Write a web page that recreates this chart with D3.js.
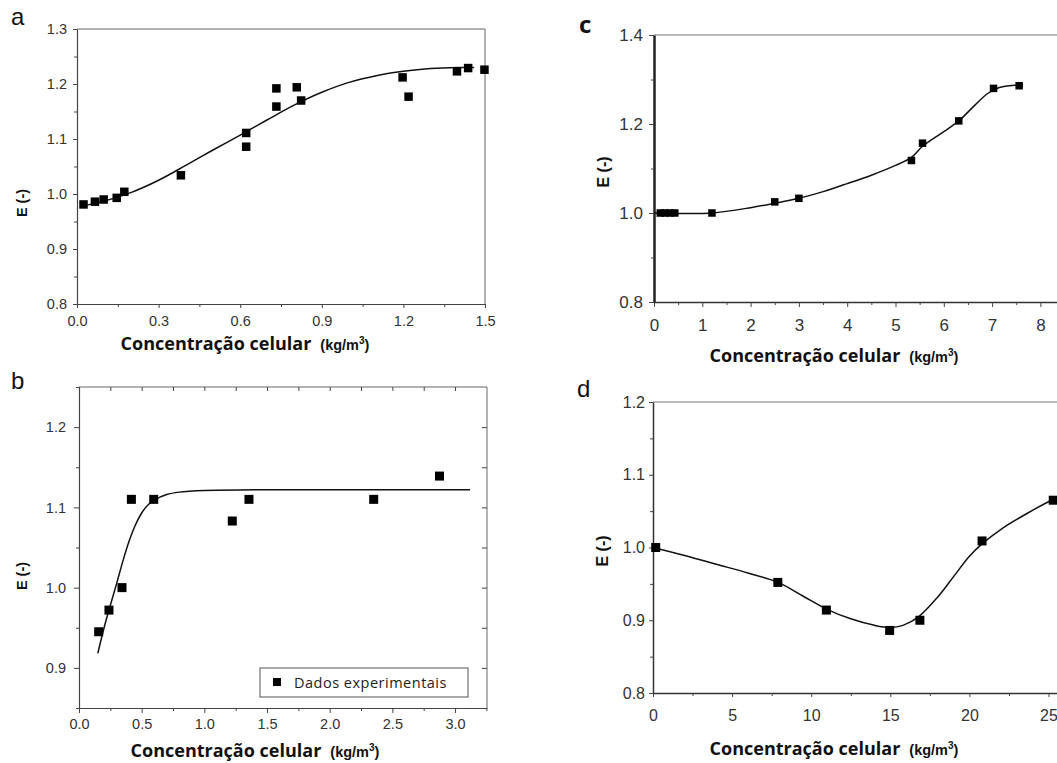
<!DOCTYPE html>
<html>
<head>
<meta charset="utf-8">
<script src="https://cdn.jsdelivr.net/npm/d3@7"></script>
<style>
  body { margin: 0; background: #fff; }
  svg { display: block; }
</style>
</head>
<body>
<script>
// ---- panel a ----
const aPointsX = [0.024, 0.066, 0.098, 0.146, 0.174, 0.382, 0.622, 0.622, 0.733, 0.733, 0.808, 0.824, 1.197, 1.219, 1.397, 1.438, 1.498];
const aPointsY = [0.981, 0.986, 0.990, 0.993, 1.004, 1.034, 1.111, 1.086, 1.192, 1.159, 1.194, 1.170, 1.212, 1.177, 1.223, 1.229, 1.226];
const aCurveX = [0.02, 0.1, 0.2, 0.3, 0.4, 0.5, 0.6, 0.7, 0.8, 0.9, 1.0, 1.1, 1.2, 1.3, 1.4, 1.46];
const aCurveY = [0.978, 0.987, 1.003, 1.025, 1.052, 1.080, 1.107, 1.135, 1.162, 1.185, 1.203, 1.215, 1.223, 1.228, 1.230, 1.230];
const aXTicks = [0, 0.3, 0.6, 0.9, 1.2, 1.5];
const aYTicks = [0.8, 0.9, 1.0, 1.1, 1.2, 1.3];

// ---- panel b ----
const bPointsX = [0.157, 0.239, 0.343, 0.418, 0.596, 1.223, 1.356, 2.351, 2.876];
const bPointsY = [0.945, 0.972, 1.000, 1.110, 1.110, 1.083, 1.110, 1.110, 1.139];
const bCurveX = [0.15, 0.2, 0.25, 0.3, 0.35, 0.4, 0.45, 0.5, 0.55, 0.6, 0.7, 0.8, 1.0, 1.5, 2.0, 2.5, 3.12];
const bCurveY = [0.918, 0.950, 0.978, 1.005, 1.033, 1.058, 1.078, 1.093, 1.103, 1.109, 1.116, 1.119, 1.121, 1.122, 1.122, 1.122, 1.122];
const bXTicks = [0, 0.5, 1.0, 1.5, 2.0, 2.5, 3.0];
const bYTicks = [0.9, 1.0, 1.1, 1.2];
const legendLabel = "Dados experimentais";

// ---- panel c ----
const cPointsX = [0.13, 0.23, 0.33, 0.43, 1.20, 2.50, 3.00, 5.33, 5.56, 6.31, 7.03, 7.56];
const cPointsY = [1.000, 1.000, 1.000, 1.000, 1.000, 1.025, 1.033, 1.118, 1.157, 1.207, 1.280, 1.286];
const cCurveX = [0, 0.5, 1.2, 2, 2.5, 3, 3.5, 4, 4.5, 5, 5.33, 5.56, 6, 6.31, 6.65, 6.9, 7.15, 7.56];
const cCurveY = [1.0, 0.999, 1.0, 1.012, 1.022, 1.033, 1.048, 1.066, 1.085, 1.107, 1.125, 1.150, 1.183, 1.207, 1.243, 1.268, 1.282, 1.288];
const cXTicks = [0, 1, 2, 3, 4, 5, 6, 7, 8];
const cYTicks = [0.8, 1.0, 1.2, 1.4];

// ---- panel d ----
const dPointsX = [0.17, 7.89, 10.96, 14.96, 16.87, 20.8, 25.3];
const dPointsY = [1.000, 0.952, 0.914, 0.886, 0.900, 1.009, 1.065];
const dCurveX = [0, 2, 4, 6, 7.9, 9.5, 11, 12.5, 14, 15, 15.8, 16.8, 18, 19, 20, 20.8, 22, 23.5, 25.3, 26.5];
const dCurveY = [1.0, 0.989, 0.977, 0.965, 0.952, 0.933, 0.915, 0.902, 0.893, 0.890, 0.893, 0.905, 0.932, 0.960, 0.988, 1.005, 1.025, 1.045, 1.066, 1.075];
const dXTicks = [0, 5, 10, 15, 20, 25];
const dYTicks = [0.8, 0.9, 1.0, 1.1, 1.2];

const xTitle = "Concentração celular";
const xUnit = ["(kg/m", "3", ")"];
const yTitle = "E (-)";

const svg = d3.select("body").append("svg")
    .attr("width", 1057)
    .attr("height", 763)
    .style("font-family", "'Liberation Sans', Arial, sans-serif");

// midpoints between major ticks, for the small ticks
const halves = t => d3.pairs(t).map(([a, b]) => (a + b) / 2);

function panel(o) {
  const x = d3.scaleLinear().domain(o.xDomain).range([o.left, o.right]);
  const y = d3.scaleLinear().domain(o.yDomain).range([o.bottom, o.top]);
  const g = svg.append("g");

  // frame (top and maybe right)
  g.append("line")
      .attr("x1", o.left).attr("x2", o.right)
      .attr("y1", o.top).attr("y2", o.top)
      .attr("stroke", o.frameColor).attr("stroke-width", 1);
  if (o.rightFrame) {
    g.append("line")
        .attr("x1", o.right).attr("x2", o.right)
        .attr("y1", o.top).attr("y2", o.bottom)
        .attr("stroke", o.frameColor).attr("stroke-width", 1);
  }

  // mirrored inner ticks on top / right
  if (o.mirror) {
    g.append("g")
        .attr("transform", `translate(0,${o.top})`)
        .call(d3.axisBottom(x).tickValues(d3.merge([o.xTicks, halves(o.xTicks)])).tickFormat("").tickSize(4).tickSizeOuter(0))
        .call(s => s.select(".domain").remove());
    g.append("g")
        .attr("transform", `translate(${o.right},0)`)
        .call(d3.axisLeft(y).tickValues(d3.merge([o.yTicks, halves(o.yTicks)])).tickFormat("").tickSize(5).tickSizeOuter(0))
        .call(s => s.select(".domain").remove());
  }

  // bottom axis
  const xa = g.append("g")
      .attr("transform", `translate(0,${o.bottom})`)
      .call(d3.axisBottom(x).tickValues(o.xTicks).tickFormat(o.xFormat)
        .tickSize(o.tick).tickPadding(o.xPad).tickSizeOuter(0));
  g.append("g")
      .attr("transform", `translate(0,${o.bottom})`)
      .call(d3.axisBottom(x).tickValues(halves(o.xTicks).concat(o.xExtraMinor || []))
        .tickFormat("").tickSize(3).tickSizeOuter(0))
      .call(s => s.select(".domain").remove());

  // left axis
  const ya = g.append("g")
      .attr("transform", `translate(${o.left},0)`)
      .call(d3.axisLeft(y).tickValues(o.yTicks).tickFormat(d3.format(".1f"))
        .tickSize(o.tick).tickPadding(o.yPad).tickSizeOuter(0));
  g.append("g")
      .attr("transform", `translate(${o.left},0)`)
      .call(d3.axisLeft(y).tickValues(o.yMinor).tickFormat("").tickSize(3).tickSizeOuter(0))
      .call(s => s.select(".domain").remove());

  g.selectAll(".tick line").attr("stroke", "#444");
  xa.select(".domain").attr("stroke", o.bottomColor).attr("stroke-width", o.bottomWidth);
  ya.select(".domain").attr("stroke", o.leftColor).attr("stroke-width", o.leftWidth);
  g.selectAll(".tick text")
      .attr("fill", "#333")
      .style("font-family", "'Liberation Sans', Arial, sans-serif")
      .style("font-size", o.tickFont + "px");

  // fitted curve
  const line = d3.line()
      .x(d => x(d[0]))
      .y(d => y(d[1]))
      .curve(d3.curveCatmullRom.alpha(0.5));
  g.append("path")
      .datum(d3.zip(o.curveX, o.curveY))
      .attr("fill", "none")
      .attr("stroke", "#111")
      .attr("stroke-width", 1.5)
      .attr("d", line);

  // experimental points
  const s = o.marker;
  g.append("g")
    .selectAll("rect")
    .data(d3.zip(o.pointsX, o.pointsY))
    .join("rect")
      .attr("x", d => x(d[0]) - s / 2)
      .attr("y", d => y(d[1]) - s / 2)
      .attr("width", s)
      .attr("height", s)
      .attr("fill", "#000");

  // axis titles
  const t = g.append("text")
      .attr("x", o.titleX)
      .attr("y", o.titleY)
      .attr("text-anchor", "middle")
      .attr("fill", "#111");
  t.append("tspan")
      .style("font-family", "'Open Sans', sans-serif")
      .style("font-weight", "bold")
      .style("font-size", "18px")
      .text(xTitle);
  const unitStyle = s => s
      .style("font-family", "'Liberation Sans', Arial, sans-serif")
      .style("font-weight", "bold");
  t.append("tspan").attr("dx", 9).style("font-size", "14.5px").call(unitStyle).text(xUnit[0]);
  t.append("tspan").attr("dy", -6).style("font-size", "10px").call(unitStyle).text(xUnit[1]);
  t.append("tspan").attr("dy", 6).style("font-size", "14.5px").call(unitStyle).text(xUnit[2]);

  g.append("text")
      .attr("transform", `translate(${o.yTitleX},${o.yTitleY}) rotate(-90)`)
      .attr("text-anchor", "middle")
      .attr("dy", "0.35em")
      .style("font-weight", "bold")
      .style("font-size", o.yTitleFont + "px")
      .attr("fill", "#111")
      .text(yTitle);

  g.append("text")
      .attr("x", o.letterX)
      .attr("y", o.letterY)
      .style("font-size", "24px")
      .style("font-family", o.letterFont || "'Liberation Sans', Arial, sans-serif")
      .style("font-weight", o.letterWeight || "normal")
      .attr("fill", "#111")
      .text(o.letter);

  return {x, y, g};
}

panel({
  letter: "a", letterX: 11, letterY: 25,
  left: 77, right: 485, top: 29, bottom: 304,
  xDomain: [0, 1.5], yDomain: [0.8, 1.3],
  xTicks: aXTicks, yTicks: aYTicks, yMinor: halves(aYTicks),
  xFormat: d3.format(".1f"),
  tick: 4, xPad: 8, yPad: 6, tickFont: 14.5,
  frameColor: "#666", rightFrame: true, mirror: false,
  bottomColor: "#444", bottomWidth: 1.2, leftColor: "#444", leftWidth: 1.2,
  pointsX: aPointsX, pointsY: aPointsY, curveX: aCurveX, curveY: aCurveY, marker: 8.5,
  titleX: 245, titleY: 350,
  yTitleX: 22, yTitleY: 203, yTitleFont: 14.5
});

const pb = panel({
  letter: "b", letterX: 11, letterY: 389,
  left: 79, right: 487, top: 387, bottom: 708,
  xDomain: [0, 3.255], yDomain: [0.85, 1.25],
  xTicks: bXTicks, yTicks: bYTicks, yMinor: [0.85, 0.95, 1.05, 1.15, 1.25],
  xExtraMinor: [3.25],
  xFormat: d3.format(".1f"),
  tick: 5, xPad: 6, yPad: 8, tickFont: 14.5,
  frameColor: "#666", rightFrame: true, mirror: true,
  bottomColor: "#444", bottomWidth: 1.2, leftColor: "#444", leftWidth: 1.2,
  pointsX: bPointsX, pointsY: bPointsY, curveX: bCurveX, curveY: bCurveY, marker: 9,
  titleX: 255, titleY: 757,
  yTitleX: 22, yTitleY: 576, yTitleFont: 14.5
});

// legend for panel b
const leg = pb.g.append("g").attr("transform", "translate(260,668)");
leg.append("rect")
    .attr("width", 208).attr("height", 29)
    .attr("fill", "#fff").attr("stroke", "#555");
leg.append("rect")
    .attr("x", 13).attr("y", 10).attr("width", 8).attr("height", 8)
    .attr("fill", "#000");
leg.append("text")
    .attr("x", 34).attr("y", 20)
    .style("font-family", "'Open Sans', sans-serif")
    .style("font-size", "14.5px")
    .style("letter-spacing", "0.5px")
    .attr("fill", "#222")
    .text(legendLabel);

panel({
  letter: "c", letterX: 579, letterY: 33, letterFont: "'Open Sans', sans-serif", letterWeight: "bold",
  left: 654, right: 654 + 9 * 48.3, top: 35, bottom: 302,
  xDomain: [0, 9], yDomain: [0.8, 1.4],
  xTicks: cXTicks, yTicks: cYTicks, yMinor: halves(cYTicks),
  xFormat: d3.format("d"),
  tick: 5, xPad: 12, yPad: 6, tickFont: 17,
  frameColor: "#777", rightFrame: false, mirror: false,
  bottomColor: "#333", bottomWidth: 1.5, leftColor: "#222", leftWidth: 2.5,
  pointsX: cPointsX, pointsY: cPointsY, curveX: cCurveX, curveY: cCurveY, marker: 7.5,
  titleX: 834, titleY: 362,
  yTitleX: 603, yTitleY: 172, yTitleFont: 16
});

panel({
  letter: "d", letterX: 577, letterY: 397,
  left: 653, right: 653 + 27 * 15.82, top: 402, bottom: 693,
  xDomain: [0, 27], yDomain: [0.8, 1.2],
  xTicks: dXTicks, yTicks: dYTicks, yMinor: halves(dYTicks),
  xFormat: d3.format("d"),
  tick: 4, xPad: 13, yPad: 4, tickFont: 16,
  frameColor: "#777", rightFrame: false, mirror: false,
  bottomColor: "#333", bottomWidth: 1.5, leftColor: "#333", leftWidth: 1.5,
  pointsX: dPointsX, pointsY: dPointsY, curveX: dCurveX, curveY: dCurveY, marker: 9,
  titleX: 834, titleY: 755,
  yTitleX: 602, yTitleY: 551, yTitleFont: 16
});
</script>
</body>
</html>
